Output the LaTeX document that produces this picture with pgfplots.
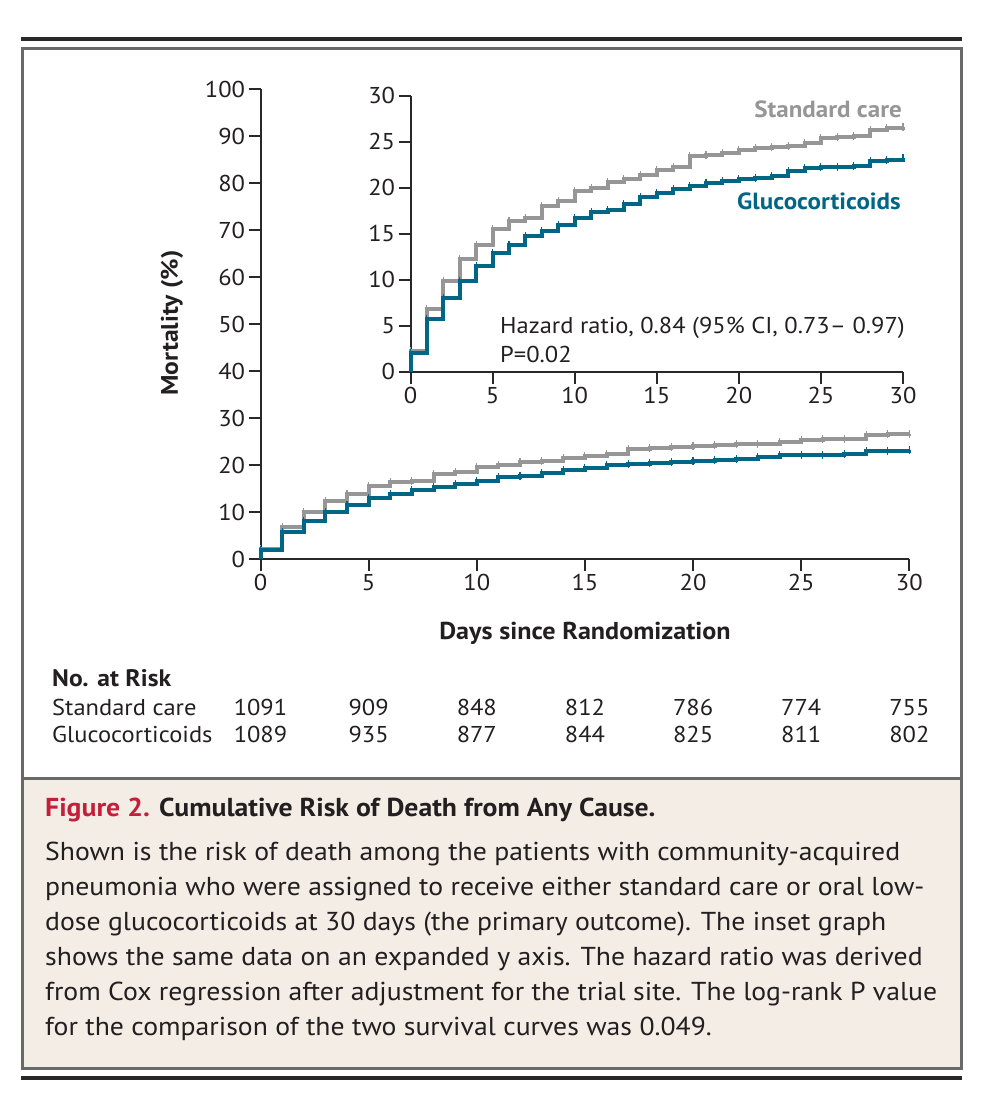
\documentclass[border=0pt]{standalone}
\usepackage{pgfplots}
\pgfplotsset{compat=1.18}
\usepackage{pgfplotstable}
\usepackage{fontspec}
\setmainfont{PT Sans}[FakeStretch=1.07]

\definecolor{stdgray}{RGB}{150,150,150}
\definecolor{glucoteal}{RGB}{0,102,134}
\definecolor{axisc}{RGB}{40,40,40}
\definecolor{txt}{RGB}{35,31,32}
\definecolor{framec}{RGB}{105,105,105}
\definecolor{capbg}{RGB}{243,237,230}
\definecolor{figred}{RGB}{196,30,58}

% cumulative mortality (%) at the start of each day
\pgfplotstableread{
day std gluco
0   0.0  0.0
0   2.2  2.0
1   6.8  5.7
2   9.9  8.0
3   12.3 9.9
4   13.8 11.5
5   15.5 12.9
6   16.4 13.8
7   16.7 14.7
8   18.0 15.3
9   18.6 16.0
10  19.6 16.7
11  20.0 17.4
12  20.6 17.6
13  20.9 18.2
14  21.4 19.0
15  21.9 19.4
16  22.3 19.9
17  23.4 20.2
18  23.6 20.5
19  23.8 20.7
20  24.1 20.9
21  24.3 21.1
22  24.4 21.3
23  24.5 21.8
24  24.9 22.1
25  25.4 22.2
26  25.5 22.2
27  25.6 22.35
28  26.3 22.9
29  26.5 23.05
30  26.6 23.2
}\kmdata

\pgfplotsset{
  kmaxis/.style={
    scale only axis, clip=false,
    xmin=0, xmax=30, ymin=0,
    axis lines*=left,
    axis line style={line width=2bp, color=axisc},
    every tick/.style={line width=2bp, color=axisc},
    tick align=outside, major tick length=12bp,
    xtick={0,5,...,30},
    tick label style={font=\fontsize{23}{26}\selectfont, text=txt},
    /pgf/number format/assume math mode=true,
  },
  stdline/.style={const plot mark left, color=stdgray, line width=4bp,
    mark=|, mark phase=2, mark size=4bp, mark options={line width=1.1bp}},
  glucoline/.style={const plot mark left, color=glucoteal, line width=4bp,
    mark=|, mark phase=2, mark size=4bp, mark options={line width=1.1bp}},
}

\begin{document}
\begin{tikzpicture}
\useasboundingbox (0,0) rectangle (994bp,-1108bp);

\begin{scope}[x=1bp,y=-1bp]
  % caption background and frame
  \fill[capbg] (22,778) rectangle (961,1068);
  \draw[framec, line width=3bp] (22,48) rectangle (961,1068);
  \draw[framec, line width=3bp] (22,778) -- (961,778);
  \draw[axisc, line width=3.5bp] (21,39) -- (962,39);
  \draw[axisc, line width=3.5bp] (21,1078) -- (962,1078);
\end{scope}

% main plot
\begin{axis}[kmaxis,
  at={(260.5bp,-559bp)}, anchor=origin,
  width=648.8bp, height=470bp,
  ymax=100, ytick={0,10,...,100}]
  \addplot[stdline] table[x=day, y=std] {\kmdata};
  \addplot[glucoline] table[x=day, y=gluco] {\kmdata};
\end{axis}

% inset with expanded y axis
\begin{axis}[kmaxis,
  at={(410.5bp,-371.7bp)}, anchor=origin,
  width=492.5bp, height=276bp,
  ymax=30, ytick={0,5,...,30}]
  \addplot[stdline] table[x=day, y=std] {\kmdata};
  \addplot[glucoline] table[x=day, y=gluco] {\kmdata};
\end{axis}

\begin{scope}[x=1bp,y=-1bp, every node/.style={inner sep=0pt, text=txt}]
  % inset labels
  \node[anchor=base east, text=stdgray, font=\fontsize{23.5}{26}\selectfont\bfseries] at (902,117) {Standard care};
  \node[anchor=base east, text=glucoteal, font=\fontsize{23.5}{26}\selectfont\bfseries] at (901,209) {Glucocorticoids};
  \node[anchor=base west, font=\fontsize{23}{26}\selectfont] at (500,333) {Hazard ratio, 0.84 (95\% CI, 0.73– 0.97)};
  \node[anchor=base west, font=\fontsize{23}{26}\selectfont] at (500,362) {P=0.02};

  % axis titles
  \node[rotate=90, font=\fontsize{24}{28}\selectfont\bfseries] at (172,323) {Mortality (\%)};
  \node[anchor=base, font=\fontsize{24.5}{28}\selectfont\bfseries] at (585,639) {Days since Randomization};

  % number at risk
  \node[anchor=base west, font=\fontsize{24}{28}\selectfont\bfseries] at (52,686) {No. at Risk};
  \node[anchor=base west, font=\fontsize{23}{26}\selectfont] at (52,715) {Standard care};
  \node[anchor=base west, font=\fontsize{23}{26}\selectfont] at (52,742) {Glucocorticoids};
  \foreach \x/\a/\b in {0/1091/1089, 5/909/935, 10/848/877, 15/812/844,
                        20/786/825, 25/774/811, 30/755/802} {
    \node[anchor=base, font=\fontsize{23}{26}\selectfont] at (260.5+21.63*\x,715) {\a};
    \node[anchor=base, font=\fontsize{23}{26}\selectfont] at (260.5+21.63*\x,742) {\b};
  }

  % caption
  \node[anchor=base west, font=\fontsize{26}{30}\selectfont\bfseries] at (45,816)
    {\textcolor{figred}{Figure 2.} Cumulative Risk of Death from Any Cause.};
  \foreach \t [count=\i from 0] in {
    {Shown is the risk of death among the patients with community-acquired},
    {pneumonia who were assigned to receive either standard care or oral low-},
    {dose glucocorticoids at 30 days (the primary outcome). The inset graph},
    {shows the same data on an expanded y axis. The hazard ratio was derived},
    {from Cox regression after adjustment for the trial site. The log-rank P value},
    {for the comparison of the two survival curves was 0.049.}} {
    \node[anchor=base west, font=\fontsize{26}{30}\selectfont] at (45,860+35*\i) {\t};
  }
\end{scope}
\end{tikzpicture}
\end{document}
